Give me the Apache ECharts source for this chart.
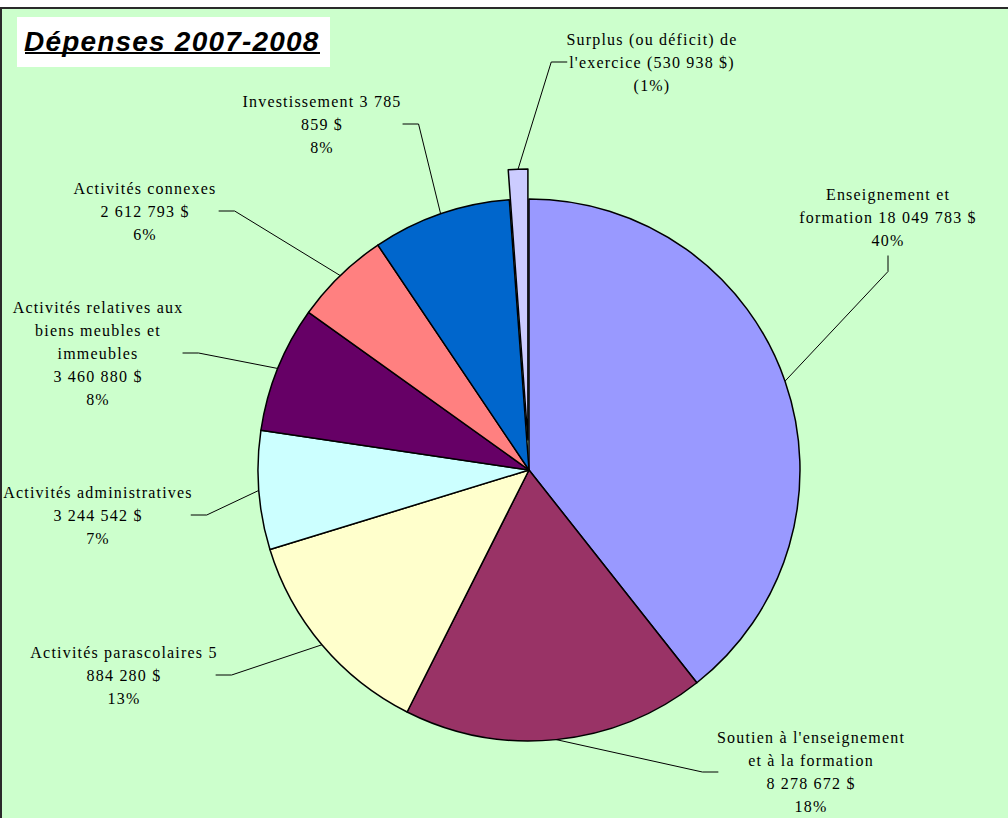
<!DOCTYPE html>
<html>
<head>
<meta charset="utf-8">
<script src="https://cdn.jsdelivr.net/npm/echarts@6/dist/echarts.min.js"></script>
<style>
  html, body { margin: 0; padding: 0; background: #ffffff; }
  #bg { position: absolute; left: 0; top: 7px; width: 1008px; height: 811px;
        background: #ccffcc; border-left: 2px solid #2a2a2a; border-top: 2px solid #2a2a2a;
        box-sizing: border-box; }
  #chart { position: absolute; left: 0; top: 0; width: 1008px; height: 818px; }
  /* Excel spreads its letters a bit */
  #chart svg text { letter-spacing: 1.2px; }
</style>
</head>
<body>
<div id="bg"></div>
<div id="chart"></div>
<script>
// slices, clockwise from 12 o'clock
const names = [
  'Enseignement et formation',
  "Soutien à l'enseignement et à la formation",
  'Activités parascolaires',
  'Activités administratives',
  'Activités relatives aux biens meubles et immeubles',
  'Activités connexes',
  'Investissement',
  "Surplus (ou déficit) de l'exercice",
];
const amounts = [18049783, 8278672, 5884280, 3244542, 3460880, 2612793, 3785859, 530938];
const labelTexts = [
  'Enseignement et\nformation 18 049 783 $\n40%',
  "Soutien à l'enseignement\net à la formation\n8 278 672 $\n18%",
  'Activités parascolaires 5\n884 280 $\n13%',
  'Activités administratives\n3 244 542 $\n7%',
  'Activités relatives aux\nbiens meubles et\nimmeubles\n3 460 880 $\n8%',
  'Activités connexes\n2 612 793 $\n6%',
  'Investissement 3 785\n859 $\n8%',
  "Surplus (ou déficit) de\nl'exercice (530 938 $)\n(1%)",
];
const colors = ['#9999ff', '#993366', '#ffffcc', '#ccffff', '#660066', '#ff8080', '#0066cc', '#ccccff'];
const explodedIdx = 7;

// where each label block sits (centre of the text)
const labelPos = [
  [888, 217], [811, 772], [124, 675], [98, 515],
  [98, 353], [145, 211], [322, 124], [652, 62],
];

const CX = 529, CY = 470, R = 271, OFFSET = 30;

// direction of the pulled-out slice, from its mid angle
const total = amounts.reduce((a, b) => a + b, 0);
const before = amounts.slice(0, explodedIdx).reduce((a, b) => a + b, 0);
const midAng = ((before + amounts[explodedIdx] / 2) / total) * 2 * Math.PI; // clockwise from top
const exCenter = [CX + OFFSET * Math.sin(midAng), CY - OFFSET * Math.cos(midAng)];

const chart = echarts.init(document.getElementById('chart'), null, { renderer: 'svg' });

const baseLabel = {
  show: true,
  formatter: (p) => labelTexts[p.dataIndex],
  fontFamily: 'Liberation Serif',
  fontSize: 16,
  lineHeight: 23,
  color: '#000',
  align: 'center',
  padding: [4, 13],
};
const baseLine = {
  show: true,
  length: 12,
  length2: 16,
  lineStyle: { color: '#000', width: 1 },
};
const placeLabel = (p) => ({
  x: labelPos[p.dataIndex][0],
  y: labelPos[p.dataIndex][1],
  align: 'center',
  verticalAlign: 'middle',
});
const hidden = {
  itemStyle: { color: 'rgba(0,0,0,0)', borderWidth: 0 },
  label: { show: false },
  labelLine: { show: false },
};

const option = {
  animation: false,
  backgroundColor: 'transparent',
  title: {
    text: 'Dépenses 2007-2008',
    left: 24,
    top: 27,
    padding: 0,
    textStyle: {
      fontFamily: 'Liberation Sans',
      fontStyle: 'italic',
      fontWeight: 'bold',
      fontSize: 28,
      color: '#000',
    },
  },
  graphic: [
    {
      type: 'rect',
      shape: { x: 17, y: 17, width: 313, height: 50 },
      style: { fill: '#ffffff' },
      z: -10,
    },
    {
      type: 'line',
      shape: { x1: 25, y1: 53, x2: 320, y2: 53 },
      style: { stroke: '#000', lineWidth: 2 },
      z: 100,
    },
  ],
  series: [
    {
      type: 'pie',
      center: [CX, CY],
      radius: R,
      startAngle: 90,
      clockwise: true,
      avoidLabelOverlap: false,
      silent: true,
      emphasis: { disabled: true },
      itemStyle: { borderColor: '#000', borderWidth: 1.5 },
      label: baseLabel,
      labelLine: baseLine,
      labelLayout: placeLabel,
      data: names.map((n, i) => Object.assign(
        { name: n, value: amounts[i], itemStyle: { color: colors[i] } },
        i === explodedIdx ? hidden : {}
      )),
    },
    {
      // same pie shifted outward: only the pulled-out slice is drawn
      type: 'pie',
      center: exCenter,
      radius: R,
      startAngle: 90,
      clockwise: true,
      avoidLabelOverlap: false,
      silent: true,
      z: 3,
      emphasis: { disabled: true },
      itemStyle: { borderColor: '#000', borderWidth: 1.5 },
      label: baseLabel,
      labelLine: baseLine,
      labelLayout: placeLabel,
      data: names.map((n, i) => Object.assign(
        { name: n, value: amounts[i], itemStyle: { color: colors[i] } },
        i === explodedIdx ? {} : hidden
      )),
    },
  ],
};

chart.setOption(option);
</script>
</body>
</html>
